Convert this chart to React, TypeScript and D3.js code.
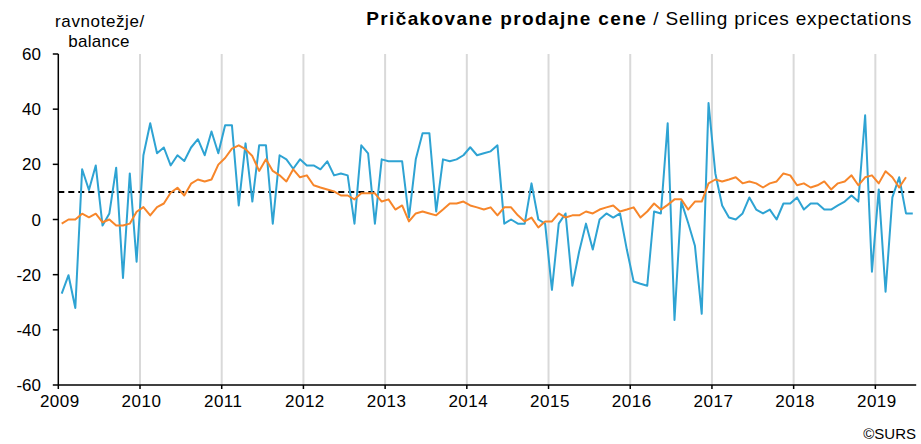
import React from "react";
import * as d3 from "d3";

const years = ["2009","2010","2011","2012","2013","2014","2015","2016","2017","2018","2019"];
const yTicks = [60, 40, 20, 0, -20, -40, -60];
const avgLine = 10;

// Monthly balance, Jan 2009 – Jun 2019
const balance = [
  -26.9,-20.2,-32.1,18.2,10.7,19.6,-2.2,2.2,18.8,-21.2,16.7,-15.3,
  23.3,34.9,24,26.1,19.6,23.3,21.2,26.1,29.1,23.3,31.9,24,
  34.2,34.2,5.1,27.6,6.5,26.9,26.9,-1.5,23.3,21.8,18.4,21.8,
  19.6,19.6,18.2,21.1,16,16.7,16,-1.5,26.9,24,-1.5,21.8,
  21.1,21.1,21.1,0.7,21.8,31.3,31.3,2.9,21.8,21.1,21.8,23.3,
  26.2,23.3,24,24.7,26.9,-1.5,0,-1.5,-1.5,13.1,0,-1.5,
  -25.5,-1.5,2.2,-24,-11.6,-1.5,-10.9,0,2.2,0.7,2.2,-10.9,
  -22.5,-23.3,-24,2.9,2.2,34.9,-36.4,6.5,-1.2,-9.5,-34.2,42.2,
  16.7,5.1,0.7,0,2.2,8,3.6,2.2,3.6,0,5.8,5.8,
  8,3.6,5.8,5.8,3.6,3.6,5.1,6.5,8.7,6.5,37.8,-18.9,
  10.9,-26.2,8,15.3,2.2,2.2
];

// Smoothed / trend series, Jan 2009 – May 2019
const trend = [
  -1.5,0,0,2.1,0.8,2.1,-1,0,-2.2,-2.2,-1.5,2.8,
  4.5,1.5,4.5,5.8,9.7,11.5,8.7,13,14.5,13.8,14.5,19.9,
  22.3,25.7,26.9,25.5,23,17.6,21.8,17.6,16,13.8,18.2,15.3,
  16,12.4,11.6,10.9,10.2,8.7,8.7,7.3,9.5,9.5,9.5,6.5,
  7.3,3.6,5.1,-0.7,2.2,2.9,2.2,1.5,3.6,5.8,5.8,6.5,
  5.1,4.4,3.6,4.4,1.5,4.4,4.4,1.5,-0.7,0.7,-2.9,-0.7,
  -0.7,2.2,0.7,1.5,1.5,2.9,2.2,3.6,4.4,5.1,2.9,3.6,
  4.4,0.7,2.9,5.8,3.6,5.3,7.3,7.3,3.6,6.5,6.5,13.1,
  14.5,13.8,14.5,15.3,13.1,13.8,13.1,11.6,13.1,13.8,16.7,16,
  12.4,13.1,11.6,12.4,13.8,10.9,13.1,13.8,16,12.4,15.3,16,
  13.1,17.5,15.3,11.6,15.3
];

const FONT = "'Liberation Sans', Arial, sans-serif";

export default function App() {
  const W = 921, H = 444;
  const left = 58.3, right = 916.2, top = 54, bottom = 385;
  const totalMonths = 126;
  const x = d3.scaleLinear().domain([0, totalMonths]).range([left, right]);
  const y = d3.scaleLinear().domain([-60, 60]).range([bottom, top]);

  const line = d3.line<number>().x((_, i) => x(i + 0.5)).y((d) => y(d));

  return (
    <svg width={W} height={H} style={{ position: "absolute", left: 0, top: 0, background: "#fff" }} fontFamily={FONT}>
      <rect width={W} height={H} fill="#fff" />
      {/* year gridlines */}
      {years.slice(1).map((yr, k) => (
        <line key={yr} x1={x((k + 1) * 12)} x2={x((k + 1) * 12)} y1={top} y2={bottom} stroke="#d9d9d9" strokeWidth={2} />
      ))}
      {/* average dashed line */}
      <line x1={left} x2={right} y1={y(avgLine)} y2={y(avgLine)} stroke="#000" strokeWidth={2} strokeDasharray="6 4" />
      {/* series */}
      <path d={line(balance) || ""} fill="none" stroke="#2ea3d3" strokeWidth={2} strokeLinejoin="round" />
      <path d={line(trend) || ""} fill="none" stroke="#f7862a" strokeWidth={2} strokeLinejoin="round" />
      {/* y axis */}
      <line x1={left} x2={left} y1={top} y2={bottom} stroke="#000" strokeWidth={1.5} />
      {yTicks.map((t) => (
        <g key={t}>
          <line x1={left - 5.5} x2={left} y1={y(t)} y2={y(t)} stroke="#000" strokeWidth={1.5} />
          <text x={41} y={y(t) + 6} textAnchor="end" fontSize={17} fill="#000">{t}</text>
        </g>
      ))}
      {/* x axis */}
      <line x1={left} x2={right} y1={bottom} y2={bottom} stroke="#000" strokeWidth={1.5} />
      {years.map((yr, k) => (
        <g key={yr}>
          <line x1={x(k * 12)} x2={x(k * 12)} y1={bottom} y2={bottom + 4} stroke="#000" strokeWidth={1.5} />
          <text x={x(k * 12) + 1.5} y={407} textAnchor="middle" fontSize={17} letterSpacing={0.5} fill="#000">{yr}</text>
        </g>
      ))}
      {/* unit label */}
      <text x={100} y={27} textAnchor="middle" fontSize={17} letterSpacing={0.6} fill="#000">ravnotežje/</text>
      <text x={99} y={47} textAnchor="middle" fontSize={17} letterSpacing={0.3} fill="#000">balance</text>
      {/* title */}
      <text x={912} y={25} textAnchor="end" fontSize={19} fill="#000">
        <tspan fontWeight="bold" letterSpacing={1.4}>Pričakovane prodajne cene</tspan>
        <tspan letterSpacing={0.8}> / Selling prices expectations</tspan>
      </text>
      {/* source */}
      <text x={916} y={439} textAnchor="end" fontSize={15} fill="#000">©SURS</text>
    </svg>
  );
}
